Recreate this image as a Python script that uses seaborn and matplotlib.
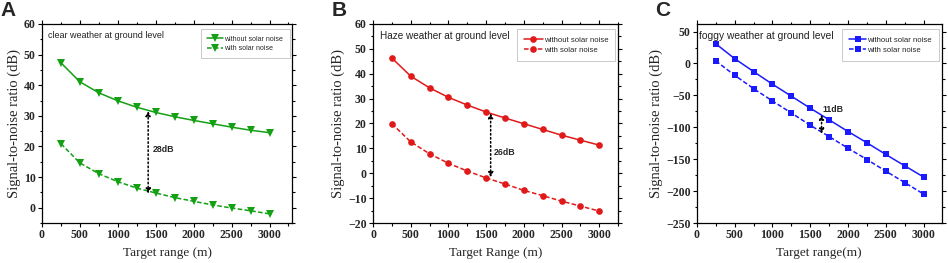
import numpy as np
import pandas as pd
import matplotlib
matplotlib.use("Agg")
import matplotlib.pyplot as plt
from matplotlib.ticker import MultipleLocator
import seaborn as sns

sns.set_theme(style="ticks")
plt.rcParams['font.family'] = ['Liberation Serif', 'DejaVu Serif']

# target range (m)
target_range = [250, 500, 750, 1000, 1250, 1500, 1750, 2000, 2250, 2500, 2750, 3000]

# panel A - clear weather
clear_without = [47.3, 41.1, 37.5, 34.9, 32.8, 31.1, 29.7, 28.5, 27.4, 26.3, 25.3, 24.5]
clear_with = [20.9, 14.6, 11.1, 8.5, 6.4, 4.8, 3.3, 2.1, 0.9, -0.1, -1.0, -2.0]

# panel B - haze weather
haze_without = [46.3, 39.0, 34.3, 30.5, 27.4, 24.6, 22.2, 19.9, 17.6, 15.3, 13.3, 11.3]
haze_with = [19.9, 12.6, 7.8, 4.0, 0.9, -1.9, -4.3, -6.9, -9.0, -11.2, -13.2, -15.2]

# panel C - foggy weather
fog_without = [31.0, 7.7, -12.6, -32.4, -51.2, -70.0, -88.3, -106.6, -124.3, -142.6, -160.4, -178.0]
fog_with = [4.1, -18.4, -39.3, -58.7, -77.5, -96.8, -114.5, -132.8, -150.5, -168.8, -186.6, -204.7]

panels = [
    dict(letter='A', title='clear weather at ground level', xlabel='Target range (m)',
         ya=clear_without, yb=clear_with, color='#13a013', marker='v',
         ylim=(-5, 60), ymaj=10, xlim=(0, 3300),
         arrow_x=1400, arrow_y=(31.6, 4.6), gap='28dB', gap_xy=(1460, 19),
         pos=[0.0443, 0.152, 0.264, 0.757], leg_fs=5.0, title_fs=6.5, title_x=0.025,
         ms=5.5, hl=2.4),
    dict(letter='B', title='Haze weather at ground level', xlabel='Target Range (m)',
         ya=haze_without, yb=haze_with, color='#e01a1a', marker='o',
         ylim=(-20, 60), ymaj=10, xlim=(0, 3250),
         arrow_x=1560, arrow_y=(24.2, -1.6), gap='26dB', gap_xy=(1600, 8.5),
         pos=[0.3935, 0.152, 0.2585, 0.757], leg_fs=5.6, title_fs=7.2, title_x=0.03,
         ms=4.8, hl=2.4),
    dict(letter='C', title='foggy weather at ground level', xlabel='Target range(m)',
         ya=fog_without, yb=fog_with, color='#1a1aff', marker='s',
         ylim=(-250, 62), ymaj=50, xlim=(0, 3240),
         arrow_x=1650, arrow_y=(-80, -110), gap='11dB', gap_xy=(1660, -72),
         pos=[0.735, 0.152, 0.2585, 0.757], leg_fs=5.6, title_fs=7.4, title_x=0.008,
         ms=4.6, hl=2.2),
]

fig = plt.figure(figsize=(9.48, 2.63), dpi=100)

for p in panels:
    ax = fig.add_axes(p['pos'])
    sns.lineplot(x=target_range, y=p['ya'], ax=ax, color=p['color'], marker=p['marker'],
                 markersize=p['ms'], markeredgewidth=0, linewidth=1.1, linestyle='-',
                 label='without solar noise')
    sns.lineplot(x=target_range, y=p['yb'], ax=ax, color=p['color'], marker=p['marker'],
                 markersize=p['ms'], markeredgewidth=0, linewidth=1.1, linestyle=(0, (3, 1.5)),
                 label='with solar noise')

    ax.set_xlim(p['xlim'])
    ax.set_ylim(p['ylim'])
    ax.xaxis.set_major_locator(MultipleLocator(500))
    ax.xaxis.set_minor_locator(MultipleLocator(250))
    ax.yaxis.set_major_locator(MultipleLocator(p['ymaj']))
    ax.yaxis.set_minor_locator(MultipleLocator(p['ymaj'] / 2))
    ax.tick_params(which='both', direction='out', top=True, right=True,
                   labeltop=False, labelright=False, width=0.8, color='black')
    ax.tick_params(which='major', length=3, labelsize=8.5, pad=1.5)
    ax.tick_params(which='minor', length=1.8)
    for lab in ax.get_xticklabels() + ax.get_yticklabels():
        lab.set_fontweight('bold')
    for s in ax.spines.values():
        s.set_color('black')
        s.set_linewidth(0.9)

    ax.set_xlabel(p['xlabel'], fontsize=9.5, labelpad=4)
    ax.set_ylabel('Signal-to-noise ratio (dB)', fontsize=10.5, labelpad=2)

    ax.text(p['title_x'], 0.965, p['title'], transform=ax.transAxes, ha='left', va='top',
            fontsize=p['title_fs'], family=['Liberation Sans', 'DejaVu Sans'], color='#222222',
            zorder=10)

    leg = ax.legend(loc='upper right', bbox_to_anchor=(0.995, 0.98),
                    frameon=True, fancybox=False, handlelength=p['hl'], handletextpad=0.15,
                    borderpad=0.9, labelspacing=0.35, borderaxespad=0.2,
                    prop={'family': ['Liberation Sans', 'DejaVu Sans'], 'size': p['leg_fs']})
    leg.get_frame().set_edgecolor('#bbbbbb')
    leg.get_frame().set_linewidth(0.7)

    ax.annotate('', xy=(p['arrow_x'], p['arrow_y'][0]), xytext=(p['arrow_x'], p['arrow_y'][1]),
                arrowprops=dict(arrowstyle='<|-|>', color='black', linestyle=':', lw=1.1,
                                mutation_scale=7, shrinkA=0, shrinkB=0))
    ax.text(p['gap_xy'][0], p['gap_xy'][1], p['gap'], fontsize=6.3, fontweight='bold',
            family=['Liberation Sans', 'DejaVu Sans'], ha='left', va='center')

    fig.text(p['pos'][0] - 0.044, 0.995, p['letter'], fontsize=15, fontweight='bold',
             family=['Liberation Sans', 'DejaVu Sans'], ha='left', va='top')

fig.savefig('out.png', dpi=100)
